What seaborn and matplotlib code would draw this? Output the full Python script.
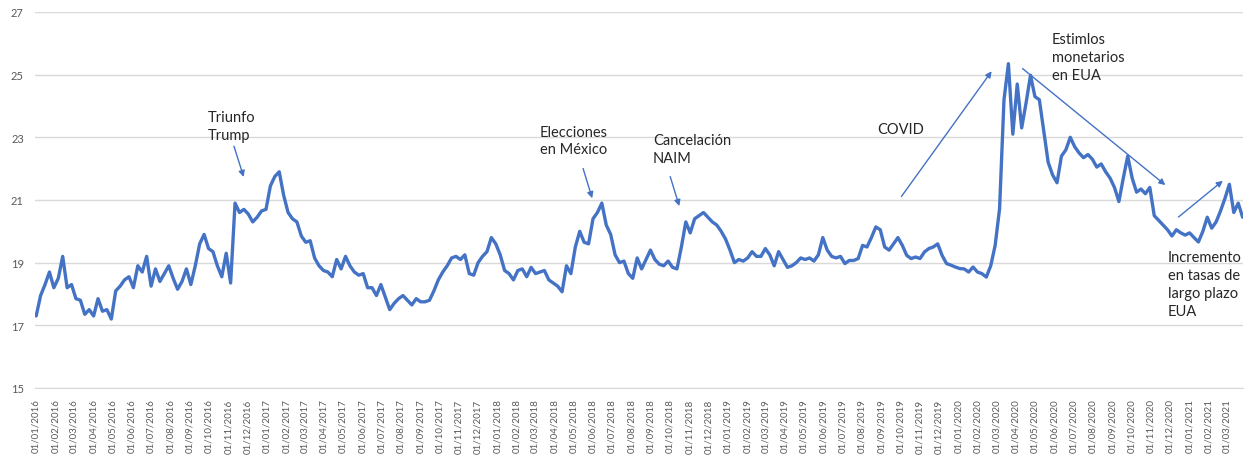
import pandas as pd
import matplotlib
matplotlib.use("Agg")
import matplotlib.pyplot as plt
import matplotlib.dates as mdates
import seaborn as sns

# tipo de cambio USD/MXN, valores semanales (viernes)
fx_2016 = [17.30, 17.95, 18.30, 18.70, 18.20,
           18.50, 19.20, 18.20, 18.30,
           17.85, 17.80, 17.35, 17.50,
           17.30, 17.85, 17.45, 17.50, 17.20,
           18.10, 18.25, 18.45, 18.55,
           18.20, 18.90, 18.70, 19.20,
           18.25, 18.80, 18.40, 18.65, 18.90,
           18.50, 18.15, 18.40, 18.80,
           18.30, 18.90, 19.60, 19.90, 19.45,
           19.35, 18.90, 18.55, 19.30,
           18.35, 20.90, 20.60, 20.70,
           20.55, 20.30, 20.45, 20.65, 20.70]
fx_2017 = [21.45, 21.75, 21.90, 21.15,
           20.60, 20.40, 20.30, 19.85,
           19.65, 19.70, 19.15, 18.90, 18.75,
           18.70, 18.55, 19.10, 18.80,
           19.20, 18.90, 18.70, 18.60,
           18.65, 18.20, 18.20, 17.95, 18.30,
           17.90, 17.50, 17.70, 17.85,
           17.95, 17.80, 17.65, 17.85,
           17.75, 17.75, 17.80, 18.10, 18.45,
           18.70, 18.90, 19.15, 19.20,
           19.10, 19.25, 18.65, 18.60,
           19.00, 19.20, 19.35, 19.80, 19.60]
fx_2018 = [19.25, 18.75, 18.65, 18.45,
           18.75, 18.80, 18.55, 18.85,
           18.65, 18.70, 18.75, 18.45, 18.35,
           18.25, 18.07, 18.90, 18.65,
           19.50, 20.00, 19.65, 19.60,
           20.40, 20.60, 20.90, 20.20, 19.90,
           19.25, 19.00, 19.05, 18.65,
           18.50, 19.15, 18.80, 19.10, 19.40,
           19.10, 18.95, 18.90, 19.05,
           18.85, 18.80, 19.50, 20.30,
           19.95, 20.40, 20.50, 20.60, 20.45,
           20.30, 20.20, 20.00, 19.75]
fx_2019 = [19.40, 19.00, 19.10, 19.05,
           19.15, 19.35, 19.20, 19.20,
           19.45, 19.25, 18.90, 19.35, 19.10,
           18.85, 18.90, 19.00, 19.15,
           19.10, 19.15, 19.05, 19.25, 19.80,
           19.40, 19.20, 19.15, 19.20,
           18.97, 19.07, 19.07, 19.13,
           19.55, 19.50, 19.80, 20.14, 20.05,
           19.50, 19.40, 19.60, 19.80,
           19.55, 19.23, 19.13, 19.18,
           19.13, 19.34, 19.45, 19.50, 19.60,
           19.23, 18.97, 18.92, 18.86]
fx_2020 = [18.81, 18.80, 18.70, 18.86, 18.70,
           18.65, 18.54, 18.90, 19.55,
           20.72, 24.20, 25.35, 23.10,
           24.70, 23.30, 24.10, 24.98,
           24.30, 24.20, 23.20, 22.20, 21.80,
           21.55, 22.40, 22.60, 23.00,
           22.70, 22.50, 22.35, 22.45, 22.30,
           22.05, 22.15, 21.90, 21.70,
           21.40, 20.95, 21.70, 22.40,
           21.70, 21.25, 21.35, 21.20, 21.40,
           20.50, 20.35, 20.20, 20.05,
           19.85, 20.05, 19.95, 19.88]
fx_2021 = [19.95, 19.80, 19.66, 20.00, 20.45,
           20.10, 20.30, 20.65, 21.05,
           21.50, 20.60, 20.90, 20.45]

values = fx_2016 + fx_2017 + fx_2018 + fx_2019 + fx_2020 + fx_2021
fechas = pd.date_range("2016-01-01", periods=len(values), freq="W-FRI")
df = pd.DataFrame({"fecha": fechas, "tc": values})

# anotaciones: texto, posición del texto, cola y punta de la flecha
notas = [
    ("Triunfo\nTrump", "2016-09-28", 23.36, ("2016-11-08", 22.8), ("2016-11-26", 21.65)),
    ("Elecciones\nen México", "2018-03-09", 22.9, ("2018-05-15", 22.09), ("2018-06-01", 20.97)),
    ("Cancelación\nNAIM", "2018-09-04", 22.63, ("2018-09-30", 21.83), ("2018-10-17", 20.72)),
    ("COVID", "2019-08-25", 23.27, ("2019-09-30", 21.04), ("2020-02-25", 25.18)),
    ("Estimlos\nmonetarios\nen EUA", "2020-05-28", 25.56, ("2020-04-08", 25.25), ("2020-11-27", 21.42)),
    ("Incremento\nen tasas de\nlargo plazo\nEUA", "2020-11-27", 18.32, ("2020-12-11", 20.40), ("2021-02-26", 21.67)),
]

sns.set_style("white")
plt.rcParams["font.family"] = ["Lato", "DejaVu Sans"]

fig, ax = plt.subplots(figsize=(12.47, 4.56), dpi=100)
fig.subplots_adjust(left=0.028, right=0.997, top=0.9715, bottom=0.147)

sns.lineplot(data=df, x="fecha", y="tc", ax=ax, color="#4472C4", linewidth=2.4)

ax.set_ylim(15, 27)
ax.set_yticks(range(15, 28, 2))
ax.set_xlim(pd.Timestamp("2015-12-30"), pd.Timestamp("2021-03-27"))
ax.xaxis.set_major_locator(mdates.MonthLocator())
ax.xaxis.set_major_formatter(mdates.DateFormatter("%d/%m/%Y"))
ax.tick_params(axis="x", rotation=90, labelsize=7, colors="#595959", length=4, color="#d9d9d9")
ax.tick_params(axis="y", labelsize=8, colors="#595959", length=0, pad=8)
ax.yaxis.grid(True, color="#d9d9d9", linewidth=1)
ax.set_xlabel("")
ax.set_ylabel("")
for s in ["top", "right", "left"]:
    ax.spines[s].set_visible(False)
ax.spines["bottom"].set_color("#d9d9d9")

for texto, fx, fy, cola, punta in notas:
    ax.text(pd.Timestamp(fx), fy, texto, ha="left", va="center", fontsize=10.5,
            color="#262626", linespacing=1.35)
    ax.annotate("", xy=(pd.Timestamp(punta[0]), punta[1]),
                xytext=(pd.Timestamp(cola[0]), cola[1]),
                arrowprops=dict(arrowstyle="-|>", color="#4472C4", lw=1, mutation_scale=9))

plt.savefig("out.png", dpi=100)
plt.close()
